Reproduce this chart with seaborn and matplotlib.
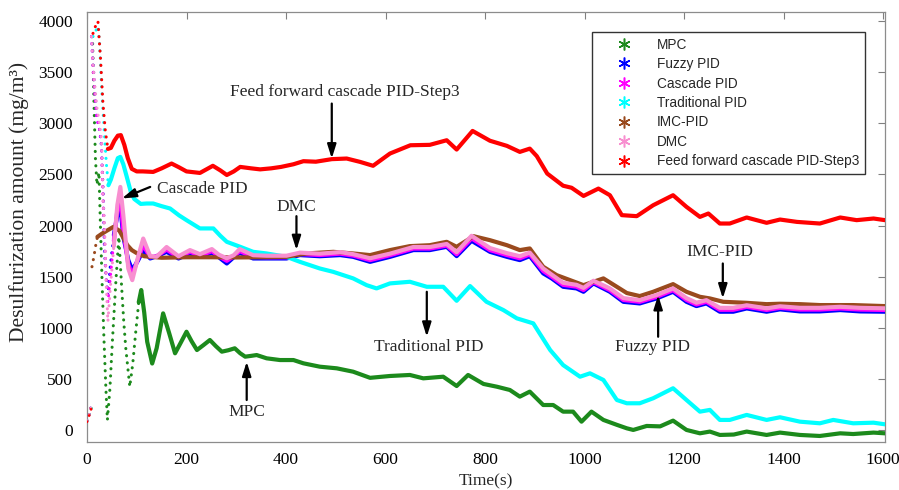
import numpy as np
import pandas as pd
import matplotlib
matplotlib.use("Agg")
import matplotlib.pyplot as plt
import seaborn as sns
from matplotlib.lines import Line2D

# ---------------- data ----------------
series_names = ["MPC", "Fuzzy PID", "Cascade PID", "Traditional PID",
                "IMC-PID", "DMC", "Feed forward cascade PID-Step3"]

mpc_t = [0, 5, 10, 11, 14, 17, 20, 24, 27, 30,
         34, 38, 41, 46, 51, 58, 64, 69, 74, 78,
         86, 92, 98, 104, 109, 115, 121, 131, 140, 153,
         165, 177, 188, 200, 210, 221, 234, 247, 259, 271,
         284, 297, 308, 318, 330, 341, 361, 388, 415, 435,
         468, 502, 535, 569, 609, 649, 676, 716, 743, 766,
         797, 824, 850, 870, 890, 917, 937, 957, 977, 994,
         1014, 1038, 1065, 1085, 1098, 1125, 1152, 1178, 1205, 1232,
         1252, 1272, 1300, 1326, 1366, 1393, 1433, 1473, 1514, 1540,
         1581, 1604]
mpc_v = [90, 160, 230, 3850, 3200, 2650, 2400, 2520, 2000, 1500,
         900, 400, 98, 400, 863, 1450, 1890, 1450, 1050, 798,
         423, 650, 961, 1250, 1369, 1150, 863, 650, 800, 1141,
         950, 750, 850, 961, 870, 782, 830, 880, 820, 766,
         780, 799, 750, 717, 725, 733, 701, 684, 684, 652,
         619, 603, 570, 510, 528, 538, 505, 521, 430, 538,
         450, 423, 391, 326, 375, 244, 244, 179, 179, 81,
         179, 98, 50, 16, 0, 39, 35, 91, 0, -33,
         -16, -49, -45, -16, -49, -26, -49, -59, -33, -40,
         -26, -33]

pid_t = [0, 5, 8, 9, 12, 16, 20, 25, 29, 31,
         33, 35, 38, 42, 47, 54, 61, 67, 73, 83,
         91, 103, 113, 127, 140, 160, 184, 207, 227, 251,
         265, 281, 295, 307, 334, 361, 401, 428, 468, 509,
         535, 569, 609, 656, 689, 723, 743, 773, 810, 844,
         870, 890, 917, 934, 957, 984, 998, 1018, 1051, 1078,
         1111, 1145, 1178, 1205, 1225, 1245, 1272, 1299, 1326, 1366,
         1393, 1433, 1473, 1514, 1554, 1604]
fuzzy_v = [90, 160, 230, 3850, 3600, 3300, 3050, 2950, 2780, 2520,
           2260, 1776, 1515, 1320, 1613, 1906, 2102, 2190, 1890, 1662,
           1564, 1662, 1760, 1678, 1700, 1743, 1678, 1727, 1694, 1733,
           1690, 1629, 1690, 1733, 1678, 1678, 1678, 1711, 1700, 1711,
           1694, 1645, 1694, 1760, 1760, 1792, 1701, 1851, 1743, 1694,
           1662, 1701, 1532, 1483, 1401, 1385, 1352, 1434, 1352, 1254,
           1238, 1287, 1352, 1254, 1212, 1238, 1157, 1157, 1189, 1157,
           1180, 1160, 1160, 1173, 1160, 1157]
cascade_v = [90, 160, 228, 3850, 3550, 3250, 3050, 2950, 2800, 2450,
             2150, 1950, 1550, 1250, 1500, 1850, 2150, 2270, 1950, 1620,
             1520, 1680, 1810, 1690, 1700, 1765, 1690, 1745, 1705, 1750,
             1700, 1655, 1700, 1750, 1695, 1690, 1690, 1722, 1712, 1725,
             1707, 1662, 1710, 1775, 1775, 1805, 1720, 1875, 1760, 1712,
             1680, 1718, 1556, 1500, 1420, 1402, 1370, 1447, 1368, 1272,
             1254, 1303, 1368, 1272, 1228, 1254, 1176, 1176, 1205, 1174,
             1195, 1178, 1178, 1189, 1178, 1174]
dmc_v = [90, 160, 225, 3850, 3600, 3350, 3150, 3000, 2850, 2500,
         2200, 2000, 1500, 1060, 1400, 1800, 2200, 2378, 2100, 1580,
         1466, 1700, 1873, 1700, 1695, 1790, 1700, 1760, 1720, 1770,
         1715, 1680, 1710, 1770, 1710, 1705, 1705, 1735, 1725, 1740,
         1720, 1680, 1725, 1790, 1790, 1820, 1740, 1900, 1780, 1730,
         1700, 1735, 1580, 1520, 1440, 1420, 1390, 1460, 1385, 1290,
         1270, 1320, 1385, 1290, 1245, 1270, 1195, 1195, 1220, 1190,
         1210, 1195, 1195, 1205, 1195, 1190]

trad_t = [0, 5, 10, 12, 17, 22, 25, 30, 35, 39,
          43, 48, 55, 62, 67, 73, 80, 88, 95, 108,
          120, 133, 150, 167, 185, 200, 227, 254, 268, 281,
          308, 334, 361, 401, 428, 468, 495, 535, 562, 582,
          609, 649, 683, 716, 743, 770, 803, 837, 864, 897,
          931, 957, 991, 1011, 1038, 1065, 1085, 1111, 1138, 1178,
          1205, 1232, 1252, 1272, 1292, 1326, 1366, 1393, 1433, 1473,
          1500, 1540, 1581, 1604]
trad_v = [90, 160, 240, 3850, 3900, 3950, 3800, 3300, 2900, 2600,
          2395, 2450, 2560, 2660, 2672, 2600, 2476, 2330, 2260, 2212,
          2216, 2216, 2190, 2167, 2100, 2053, 1972, 1972, 1900, 1841,
          1792, 1743, 1727, 1694, 1645, 1580, 1547, 1483, 1417, 1385,
          1434, 1450, 1401, 1401, 1264, 1408, 1254, 1173, 1092, 1043,
          782, 635, 521, 554, 489, 293, 261, 261, 310, 408,
          293, 179, 196, 98, 98, 147, 98, 124, 81, 65,
          98, 65, 71, 55]

imc_t = [0, 5, 8, 10, 14, 18, 21, 30, 40, 53,
         65, 73, 81, 90, 101, 115, 128, 150, 200, 250,
         300, 350, 401, 441, 495, 535, 569, 609, 649, 689,
         723, 743, 777, 810, 844, 870, 890, 917, 944, 971,
         998, 1038, 1065, 1085, 1111, 1138, 1178, 1205, 1232, 1252,
         1279, 1326, 1366, 1393, 1433, 1473, 1540, 1604]
imc_v = [90, 160, 230, 1597, 1700, 1820, 1890, 1920, 1950, 1987,
         1950, 1880, 1808, 1760, 1727, 1700, 1694, 1685, 1690, 1690,
         1688, 1690, 1694, 1727, 1743, 1727, 1711, 1760, 1799, 1808,
         1841, 1792, 1896, 1857, 1808, 1760, 1776, 1597, 1515, 1466,
         1417, 1483, 1401, 1340, 1310, 1352, 1427, 1352, 1303, 1287,
         1254, 1244, 1231, 1235, 1231, 1222, 1222, 1212]

ff_t = [0, 5, 10, 12, 17, 22, 27, 32, 37, 42,
        48, 55, 62, 68, 75, 82, 90, 100, 112, 133,
        150, 170, 185, 200, 227, 253, 268, 281, 295, 308,
        330, 348, 370, 390, 415, 435, 460, 492, 522, 549,
        575, 609, 650, 689, 723, 743, 775, 810, 844, 870,
        890, 904, 925, 957, 974, 998, 1028, 1051, 1075, 1105,
        1138, 1178, 1205, 1232, 1249, 1272, 1292, 1326, 1366, 1393,
        1427, 1473, 1514, 1547, 1581, 1604]
ff_v = [80, 150, 230, 3880, 3950, 4000, 3650, 3200, 2920, 2750,
        2760, 2830, 2880, 2885, 2790, 2660, 2555, 2530, 2530, 2525,
        2560, 2607, 2570, 2530, 2515, 2585, 2540, 2495, 2530, 2574,
        2560, 2550, 2560, 2574, 2600, 2630, 2625, 2650, 2656, 2623,
        2585, 2705, 2786, 2790, 2835, 2744, 2926, 2830, 2780, 2721,
        2753, 2680, 2509, 2390, 2370, 2290, 2362, 2297, 2102, 2092,
        2199, 2297, 2183, 2085, 2118, 2020, 2020, 2079, 2027, 2059,
        2036, 2020, 2079, 2053, 2069, 2053]

x_ticks = [0, 200, 400, 600, 800, 1000, 1200, 1400, 1600]
y_ticks = [0, 500, 1000, 1500, 2000, 2500, 3000, 3500, 4000]

# ---------------- style ----------------
colors = {"MPC": "#1c8a1c", "Fuzzy PID": "#0000ff", "Cascade PID": "#ff00ff",
          "Traditional PID": "#00ffff", "IMC-PID": "#9a4a1e", "DMC": "#f88fd0",
          "Feed forward cascade PID-Step3": "#ff0000"}
# step time (start of the sampled transient) and end of the sparse-sample look
jump_at = {"MPC": 11, "Fuzzy PID": 9, "Cascade PID": 9, "Traditional PID": 12,
           "IMC-PID": 10, "DMC": 9, "Feed forward cascade PID-Step3": 12}
dots_until = {"MPC": 104, "Fuzzy PID": 54, "Cascade PID": 54, "Traditional PID": 43,
              "IMC-PID": 21, "DMC": 54, "Feed forward cascade PID-Step3": 42}

raw = {"MPC": (mpc_t, mpc_v), "Fuzzy PID": (pid_t, fuzzy_v),
       "Cascade PID": (pid_t, cascade_v), "Traditional PID": (trad_t, trad_v),
       "IMC-PID": (imc_t, imc_v), "DMC": (pid_t, dmc_v),
       "Feed forward cascade PID-Step3": (ff_t, ff_v)}

frames = []
for name in series_names:
    t, v = raw[name]
    frames.append(pd.DataFrame({"t": t, "v": v, "series": name}))
df = pd.concat(frames, ignore_index=True)

sns.set_theme(style="white")
plt.rcParams["font.family"] = ["Liberation Serif", "DejaVu Serif"]

fig = plt.figure(figsize=(8.99, 4.90), dpi=100)
ax = fig.add_axes([87 / 899, 1 - 442 / 490, (885 - 87) / 899, (442 - 12) / 490])

dotted = (0, (0.05, 2.3))
for name in series_names:
    sub = df[df["series"] == name]
    j, d = jump_at[name], dots_until[name]
    parts = [(sub[sub["t"] < j], dotted, 2.0),
             (sub[(sub["t"] >= j) & (sub["t"] <= d)], dotted, 2.2),
             (sub[sub["t"] >= d], "-", 3.0)]
    for part, ls, lw in parts:
        n0 = len(ax.lines)
        sns.lineplot(data=part, x="t", y="v", color=colors[name], lw=lw,
                     estimator=None, sort=False, ax=ax, legend=False, zorder=3)
        for ln in ax.lines[n0:]:
            ln.set_linestyle(ls)
            ln.set_dash_capstyle("round")
            ln.set_solid_capstyle("round")
            ln.set_solid_joinstyle("round")

ax.set_xlim(0, 1604)
ax.set_ylim(-118, 4090)
ax.set_xticks(x_ticks)
ax.set_yticks(y_ticks)
ax.set_xticklabels([str(x) for x in x_ticks])
ax.set_yticklabels([str(y) for y in y_ticks])
ax.tick_params(direction="in", length=5, width=0.8, color="#808080",
               top=True, right=True, labelsize=12.5, labelcolor="black")
ax.tick_params(axis="x", pad=7)
ax.tick_params(axis="y", pad=10)
for sp in ax.spines.values():
    sp.set_color("#8c8c8c")
    sp.set_linewidth(0.9)

ax.set_xlabel("Time(s)", fontsize=12.5, labelpad=4)
ax.set_ylabel("Desulfurization amount (mg/m\u00b3)", fontsize=15.5)
ax.yaxis.set_label_coords(-0.073, 0.558)

# ---------------- annotations ----------------
arrow_kw = dict(arrowstyle="-|>,head_length=0.7,head_width=0.22", color="black",
                lw=1.6, shrinkA=0, shrinkB=0)
ann_fs = 12.5
ax.text(519, 3304, "Feed forward cascade PID-Step3", ha="center", va="center", fontsize=ann_fs)
ax.annotate("", xy=(492, 2656), xytext=(492, 3194), arrowprops=arrow_kw)
ax.text(231, 2362, "Cascade PID", ha="center", va="center", fontsize=ann_fs)
ax.annotate("", xy=(70, 2265), xytext=(127, 2378), arrowprops=arrow_kw)
ax.text(420, 2183, "DMC", ha="center", va="center", fontsize=ann_fs)
ax.annotate("", xy=(421, 1760), xytext=(421, 2092), arrowprops=arrow_kw)
ax.text(686, 808, "Traditional PID", ha="center", va="center", fontsize=ann_fs)
ax.annotate("", xy=(683, 912), xytext=(683, 1352), arrowprops=arrow_kw)
ax.text(1136, 808, "Fuzzy PID", ha="center", va="center", fontsize=ann_fs)
ax.annotate("", xy=(1148, 1320), xytext=(1148, 912), arrowprops=arrow_kw)
ax.text(1272, 1743, "IMC-PID", ha="center", va="center", fontsize=ann_fs)
ax.annotate("", xy=(1278, 1287), xytext=(1278, 1629), arrowprops=arrow_kw)
ax.text(321, 179, "MPC", ha="center", va="center", fontsize=ann_fs)
ax.annotate("", xy=(321, 668), xytext=(321, 293), arrowprops=arrow_kw)

# ---------------- legend ----------------
handles = [Line2D([], [], ls="none", marker=(6, 2, 0), markersize=8.5,
                  markeredgewidth=1.1, color=colors[n]) for n in series_names]
leg = ax.legend(handles, series_names, loc="upper right", bbox_to_anchor=(0.975, 0.9535),
                frameon=True, fancybox=False, framealpha=1, edgecolor="#333333",
                prop={"family": "Liberation Sans", "size": 9.8},
                handlelength=3.9, handletextpad=0.45, borderpad=0.42, labelspacing=0.4,
                borderaxespad=0)
leg.get_frame().set_linewidth(1.0)

fig.savefig("out.png", dpi=100)
